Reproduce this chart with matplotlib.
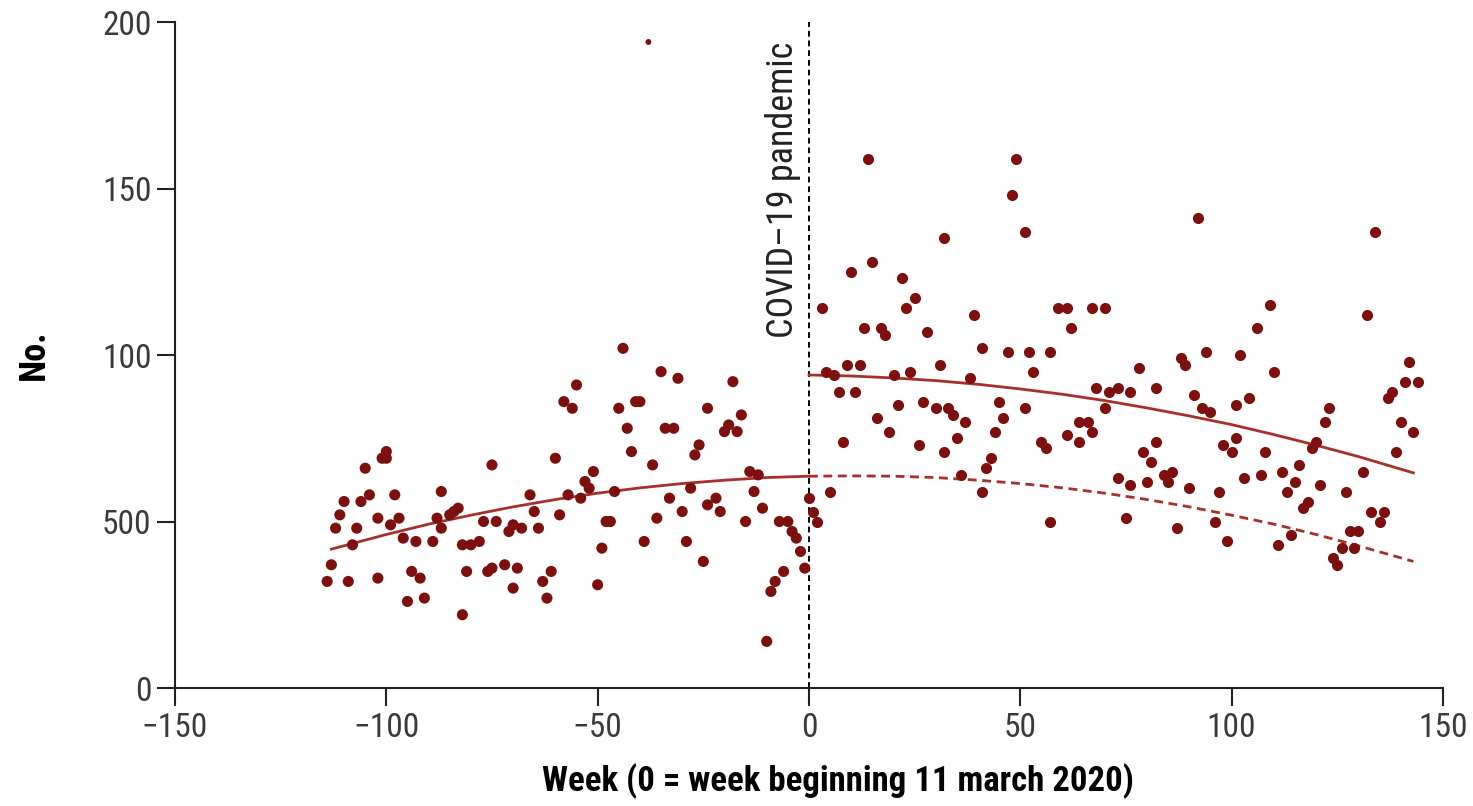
import numpy as np
import matplotlib
matplotlib.use('Agg')
import matplotlib.pyplot as plt
from matplotlib import font_manager as fm

# weekly counts before the pandemic (week < 0)
pre_weeks = [-114, -113, -112, -111, -110, -109, -108, -107, -106, -105,
             -104, -102, -102, -101, -100, -100, -99, -98, -97, -96,
             -95, -94, -93, -92, -91, -89, -88, -87, -87, -85,
             -84, -83, -82, -82, -81, -80, -78, -77, -76, -75,
             -75, -74, -72, -71, -70, -70, -69, -68, -66, -65,
             -64, -63, -62, -61, -60, -59, -58, -57, -56, -55,
             -54, -53, -52, -51, -50, -49, -48, -47, -46, -45,
             -44, -43, -42, -41, -40, -39, -38, -37, -36, -35,
             -34, -33, -32, -31, -30, -29, -28, -27, -26, -25,
             -24, -24, -22, -21, -20, -19, -18, -17, -16, -15,
             -14, -13, -12, -11, -10, -9, -8, -7, -6, -5,
             -4, -3, -2, -1]
pre_counts = [32, 37, 48, 52, 56, 32, 43, 48, 56, 66,
              58, 51, 33, 69, 71, 69, 49, 58, 51, 45,
              26, 35, 44, 33, 27, 44, 51, 59, 48, 52,
              53, 54, 43, 22, 35, 43, 44, 50, 35, 67,
              36, 50, 37, 47, 49, 30, 36, 48, 58, 53,
              48, 32, 27, 35, 69, 52, 86, 58, 84, 91,
              57, 62, 60, 65, 31, 42, 50, 50, 59, 84,
              102, 78, 71, 86, 86, 44, 194, 67, 51, 95,
              78, 57, 78, 93, 53, 44, 60, 70, 73, 38,
              84, 55, 57, 53, 77, 79, 92, 77, 82, 50,
              65, 59, 64, 54, 14, 29, 32, 50, 35, 50,
              47, 45, 41, 36]

# weekly counts from week 0 (week beginning 11 March 2020)
post_weeks = [0, 1, 2, 3, 4, 5, 6, 7, 8, 9,
              10, 11, 12, 13, 14, 15, 16, 17, 18, 19,
              20, 21, 22, 23, 24, 25, 26, 27, 28, 30,
              31, 32, 32, 33, 34, 35, 36, 37, 38, 39,
              41, 41, 42, 43, 44, 45, 46, 47, 48, 49,
              51, 51, 52, 53, 55, 56, 57, 57, 59, 61,
              61, 62, 64, 64, 66, 67, 67, 68, 70, 70,
              71, 73, 73, 75, 76, 76, 78, 79, 80, 81,
              82, 82, 84, 85, 86, 87, 88, 89, 90, 91,
              92, 93, 94, 95, 96, 97, 98, 99, 100, 101,
              101, 102, 103, 104, 106, 107, 108, 109, 110, 111,
              112, 113, 114, 115, 116, 117, 118, 119, 120, 121,
              122, 123, 124, 125, 126, 127, 128, 129, 130, 131,
              132, 133, 134, 135, 136, 137, 138, 139, 140, 141,
              142, 143, 144]
post_counts = [57, 53, 50, 114, 95, 59, 94, 89, 74, 97,
               125, 89, 97, 108, 159, 128, 81, 108, 106, 77,
               94, 85, 123, 114, 95, 117, 73, 86, 107, 84,
               97, 135, 71, 84, 82, 75, 64, 80, 93, 112,
               102, 59, 66, 69, 77, 86, 81, 101, 148, 159,
               137, 84, 101, 95, 74, 72, 101, 50, 114, 114,
               76, 108, 80, 74, 80, 114, 77, 90, 114, 84,
               89, 90, 63, 51, 89, 61, 96, 71, 62, 68,
               90, 74, 64, 62, 65, 48, 99, 97, 60, 88,
               141, 84, 101, 83, 50, 59, 73, 44, 71, 85,
               75, 100, 63, 87, 108, 64, 71, 115, 95, 43,
               65, 59, 46, 62, 67, 54, 56, 72, 74, 61,
               80, 84, 39, 37, 42, 59, 47, 42, 47, 65,
               112, 53, 137, 50, 53, 87, 89, 71, 80, 92,
               98, 77, 92]

# fitted trends
trend_pre_weeks = [-113, -100, -90, -80, -70, -60, -50, -40, -30, -20, -10, 0]
trend_pre = [41.7, 46.1, 49.2, 51.9, 54.4, 56.6, 58.5, 60.1, 61.4, 62.4, 63.2, 63.6]
trend_post_weeks = [0, 10, 20, 30, 40, 50, 60, 70, 80, 90, 100, 110, 120, 130, 143]
trend_post = [94.0, 93.7, 93.1, 92.3, 91.2, 89.8, 88.2, 86.3, 84.1, 81.7,
              79.1, 76.1, 72.9, 69.5, 64.6]
trend_nopandemic = [63.6, 63.7, 63.6, 63.2, 62.4, 61.4, 60.1, 58.5, 56.6, 54.4,
                    51.9, 49.2, 46.1, 42.7, 38.0]

y_ticks = [0, 50, 100, 150, 200]
y_ticklabels = ['0', '500', '100', '150', '200']

dot_color = '#7d0f0f'
line_color = '#a8302a'

installed = {f.name for f in fm.fontManager.ttflist}
families = [f for f in ['Liberation Sans Narrow', 'Roboto Condensed', 'Open Sans Condensed',
                        'DejaVu Sans Condensed', 'Noto Sans Condensed'] if f in installed]
plt.rcParams['font.family'] = families + ['DejaVu Sans']
plt.rcParams['font.stretch'] = 'condensed'

fig = plt.figure(figsize=(14.73, 8.06), dpi=100)
ax = fig.add_axes([0.1188, 0.1464, 0.8608, 0.8263])

pre_c = np.array(pre_counts)
sizes = np.where(pre_c > 180, 18, 64)
ax.scatter(pre_weeks, pre_counts, s=sizes, color=dot_color, zorder=3, linewidths=0)
ax.scatter(post_weeks, post_counts, s=64, color=dot_color, zorder=3, linewidths=0)

ax.plot(trend_pre_weeks, trend_pre, color=line_color, lw=2, zorder=2)
ax.plot(trend_post_weeks, trend_post, color=line_color, lw=2, zorder=2)
ax.plot(trend_post_weeks, trend_nopandemic, color=line_color, lw=2,
        ls=(0, (3.2, 2)), zorder=2)

ax.axvline(0, color='black', lw=1.4, ls=(0, (3, 2)), zorder=1)
ax.text(-2.0, 149.5, 'COVID\u201319 pandemic', rotation=90, ha='right', va='center',
        fontsize=26, color='#222222')

ax.set_xlim(-150, 150)
ax.set_ylim(0, 200)
ax.set_xticks([-150, -100, -50, 0, 50, 100, 150])
ax.set_xticklabels(['\u2212150', '\u2212100', '\u221250', '0', '50', '100', '150'])
ax.set_yticks(y_ticks)
ax.set_yticklabels(y_ticklabels)
ax.tick_params(axis='both', direction='out', length=13, width=1.5,
               labelsize=24, colors='#222222', labelcolor='#3a3a3a', pad=4)
for side in ['top', 'right']:
    ax.spines[side].set_visible(False)
for side in ['left', 'bottom']:
    ax.spines[side].set_linewidth(1.5)
    ax.spines[side].set_color('#222222')

ax.set_xlabel('Week (0 = week beginning 11 march 2020)', fontsize=25, fontweight='bold')
ax.xaxis.set_label_coords(0.523, -0.14)
ax.xaxis.label.set_va('center')
ax.set_ylabel('No.', fontsize=26, fontweight='bold')
ax.yaxis.set_label_coords(-0.111, 0.5)
ax.yaxis.label.set_va('center')

fig.savefig('out.png', dpi=100)
